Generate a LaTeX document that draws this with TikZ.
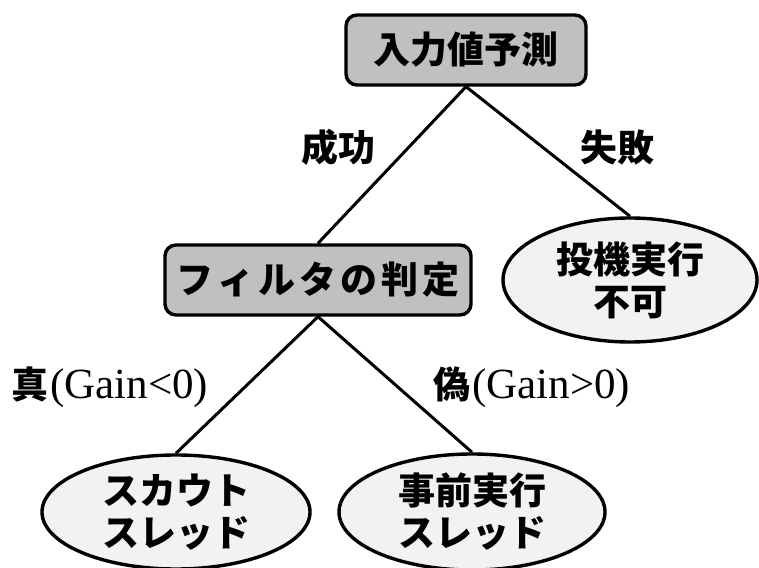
\documentclass[tikz,border=0pt]{standalone}
\usepackage{fontspec}
\setmainfont{Liberation Serif}
\newfontfamily\jp{Noto Sans CJK JP}
\usetikzlibrary{shapes.geometric}
\definecolor{boxgray}{HTML}{C0C0C0}
\definecolor{ellfill}{HTML}{F2F2F2}
\tikzset{
  jpfont/.style={font=\jp\bfseries\fontsize{37}{46}\selectfont},
  decision/.style={draw=black, line width=3.4pt, fill=boxgray, rounded corners=11pt,
    inner sep=0pt, jpfont, align=center},
  leaf/.style={draw=black, line width=3.4pt, fill=ellfill, ellipse, inner sep=0pt,
    jpfont, align=center},
  conn/.style={draw=black, line width=3pt},
  lbl/.style={inner sep=0pt, jpfont},
  glbl/.style={inner sep=0pt, anchor=west}
}
\newcommand{\gn}[1]{{\fontsize{43}{46}\selectfont #1}}
\begin{document}
\begin{tikzpicture}[x=1pt,y=1pt]
\useasboundingbox (0,0) rectangle (759,567);
\fill[white] (0,0) rectangle (759,567);
\node[decision, minimum width=240, minimum height=70] (pred) at (466,517) {入力値予測};
\node[decision, minimum width=306, minimum height=70] (filt) at (318,287)
  {フ\kern4ptィ\kern4ptル\kern4ptタ\kern4ptの\kern4pt判\kern4pt定};
\node[leaf, minimum width=254, minimum height=124] (ng) at (630,287) {投機実行\\[-4pt]不可};
\node[leaf, minimum width=268, minimum height=114] (scout) at (176,55) {スカウト\\[-4pt]スレッド};
\node[leaf, minimum width=266, minimum height=116] (pre) at (472,55) {事前実行\\[-4pt]スレッド};
\draw[conn] (pred.south) -- (filt.north);
\draw[conn] (pred.south) -- (ng.north);
\draw[conn] (filt.south) -- (scout.north);
\draw[conn] (filt.south) -- (pre.north);
\node[lbl] (succ) at (338,420) {成功};
\node[lbl] (fail) at (617,420) {失敗};
\node[glbl] (tru) at (11,180) {{\jp\bfseries\fontsize{37}{46}\selectfont 真}\kern2pt\gn{(Gain<0)}};
\node[glbl] (fal) at (433,180) {{\jp\bfseries\fontsize{37}{46}\selectfont 偽}\kern2pt\gn{(Gain>0)}};
\end{tikzpicture}
\end{document}
